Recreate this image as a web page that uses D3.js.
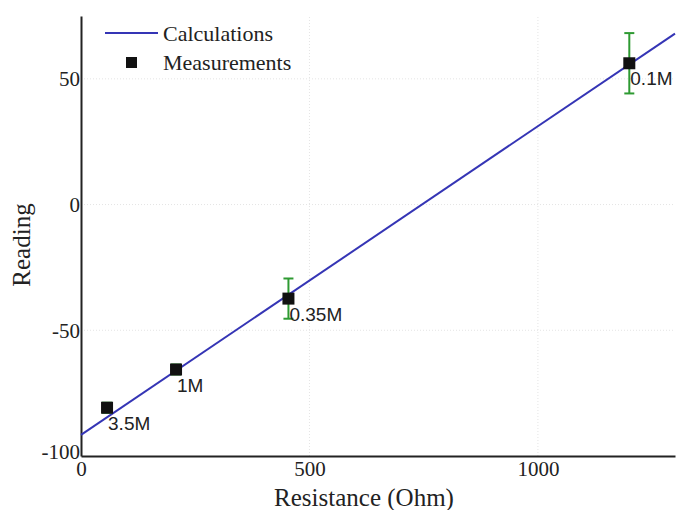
<!DOCTYPE html>
<html>
<head>
<meta charset="utf-8">
<script src="https://cdn.jsdelivr.net/npm/d3@7/dist/d3.min.js"></script>
<style>
  body { margin: 0; background: #fff; }
  svg { display: block; }
</style>
</head>
<body>
<div id="chart"></div>
<script>
// calculated line (two end points of the fitted calculation)
var calcX = [0, 1300]
var calcY = [-91.6, 68.0]

// measured points
var measX = [57, 208, 454, 1200]
var measY = [-80.8, -65.6, -37.4, 56.2]
var measErr = [2, 2, 8, 12]
var measLabels = ["3.5M", "1M", "0.35M", "0.1M"]

var xTicks = [0, 500, 1000]
var yTicks = [-100, -50, 0, 50]

var width = 678, height = 510
var margin = { left: 81, right: 3, top: 16, bottom: 54 }

var svg = d3.select("#chart").append("svg")
    .attr("width", width)
    .attr("height", height)

var xScale = d3.scaleLinear()
    .domain([0, 1300])
    .range([margin.left, width - margin.right])

var yScale = d3.scaleLinear()
    .domain([-100, 75])
    .range([height - margin.bottom, margin.top])

var serif = "Liberation Serif, Times New Roman, serif"

// faint grid
svg.append("g")
    .selectAll("line")
    .data(xTicks.filter(d => d > 0))
    .join("line")
    .attr("x1", d => xScale(d)).attr("x2", d => xScale(d))
    .attr("y1", yScale(-100)).attr("y2", yScale(75))
    .attr("stroke", "#e4e4e4")
    .attr("stroke-dasharray", "1,2")
svg.append("g")
    .selectAll("line")
    .data(yTicks.filter(d => d > -100))
    .join("line")
    .attr("y1", d => yScale(d)).attr("y2", d => yScale(d))
    .attr("x1", xScale(0)).attr("x2", xScale(1300))
    .attr("stroke", "#e4e4e4")
    .attr("stroke-dasharray", "1,2")

// axes
var xAxis = d3.axisBottom(xScale).tickValues(xTicks).tickSize(0).tickPadding(5)
    .tickFormat(d => String(d))
var gx = svg.append("g")
    .attr("transform", "translate(0," + yScale(-100) + ")")
    .call(xAxis)
gx.select(".domain").attr("stroke", "#222").attr("stroke-width", 2)
gx.selectAll("text")
    .attr("font-family", serif)
    .attr("font-size", 21)
    .attr("fill", "#222")

var yAxis = d3.axisLeft(yScale).tickValues(yTicks).tickSize(0).tickPadding(1)
    .tickFormat(d => String(d))
var gy = svg.append("g")
    .attr("transform", "translate(" + xScale(0) + ",0)")
    .call(yAxis)
gy.select(".domain").attr("stroke", "#222").attr("stroke-width", 2)
gy.selectAll("text")
    .attr("font-family", serif)
    .attr("font-size", 21)
    .attr("fill", "#222")
gy.selectAll(".tick").filter(d => d === -100).select("text").attr("dy", "0.1em")

// calculation line
svg.append("path")
    .datum(calcX.map((x, i) => [x, calcY[i]]))
    .attr("fill", "none")
    .attr("stroke", "#3535b5")
    .attr("stroke-width", 2)
    .attr("d", d3.line().x(d => xScale(d[0])).y(d => yScale(d[1])))

// error bars
var eb = svg.append("g")
    .selectAll("g")
    .data(measX.map((x, i) => ({ x: x, y: measY[i], e: measErr[i] })))
    .join("g")
    .attr("stroke", "#2e9a32")
    .attr("stroke-width", 2)
eb.append("line")
    .attr("x1", d => xScale(d.x)).attr("x2", d => xScale(d.x))
    .attr("y1", d => yScale(d.y - d.e)).attr("y2", d => yScale(d.y + d.e))
eb.append("line")
    .attr("x1", d => xScale(d.x) - 5).attr("x2", d => xScale(d.x) + 5)
    .attr("y1", d => yScale(d.y + d.e)).attr("y2", d => yScale(d.y + d.e))
eb.append("line")
    .attr("x1", d => xScale(d.x) - 5).attr("x2", d => xScale(d.x) + 5)
    .attr("y1", d => yScale(d.y - d.e)).attr("y2", d => yScale(d.y - d.e))

// measurement squares
svg.append("g")
    .selectAll("rect")
    .data(measX.map((x, i) => [x, measY[i]]))
    .join("rect")
    .attr("x", d => xScale(d[0]) - 6)
    .attr("y", d => yScale(d[1]) - 6)
    .attr("width", 12)
    .attr("height", 12)
    .attr("fill", "#111")

// point labels
svg.append("g")
    .selectAll("text")
    .data(measX.map((x, i) => [x, measY[i], measLabels[i]]))
    .join("text")
    .attr("x", d => xScale(d[0]) + 1)
    .attr("y", d => yScale(d[1]) + 22)
    .attr("font-family", "Liberation Sans, Arial, sans-serif")
    .attr("font-size", 19)
    .attr("fill", "#222")
    .text(d => d[2])

// axis titles
svg.append("text")
    .attr("x", 364)
    .attr("y", 506)
    .attr("text-anchor", "middle")
    .attr("font-family", serif)
    .attr("font-size", 25)
    .attr("fill", "#222")
    .text("Resistance (Ohm)")

svg.append("text")
    .attr("transform", "translate(30,245) rotate(-90)")
    .attr("text-anchor", "middle")
    .attr("font-family", serif)
    .attr("font-size", 25)
    .attr("fill", "#222")
    .text("Reading")

// legend
var legend = svg.append("g")
legend.append("line")
    .attr("x1", 105).attr("x2", 158)
    .attr("y1", 33).attr("y2", 33)
    .attr("stroke", "#3535b5")
    .attr("stroke-width", 2)
legend.append("rect")
    .attr("x", 126).attr("y", 57)
    .attr("width", 11).attr("height", 11)
    .attr("fill", "#111")
legend.selectAll("text")
    .data(["Calculations", "Measurements"])
    .join("text")
    .attr("x", 163)
    .attr("y", (d, i) => 41 + i * 29)
    .attr("font-family", serif)
    .attr("font-size", 22)
    .attr("fill", "#222")
    .text(d => d)
</script>
</body>
</html>
